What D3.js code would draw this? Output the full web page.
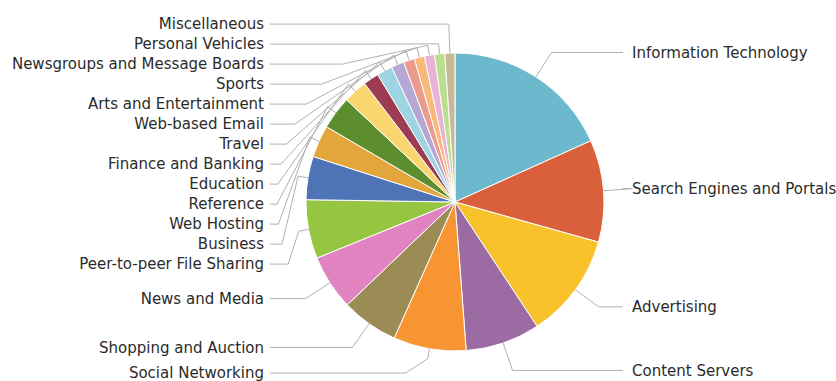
<!DOCTYPE html>
<html>
<head>
<meta charset="utf-8">
<script src="https://cdn.jsdelivr.net/npm/d3@7"></script>
<style>
  body { margin: 0; background: #fff; }
  text { font-family: "DejaVu Sans", sans-serif; font-size: 15px; fill: #2b2b2b; }
</style>
</head>
<body>
<div id="chart"></div>
<script>
// Slice categories, clockwise from 12 o'clock
const categories = [
    "Information Technology", "Search Engines and Portals", "Advertising", "Content Servers",
    "Social Networking", "Shopping and Auction", "News and Media", "Peer-to-peer File Sharing",
    "Business", "Web Hosting", "Reference", "Education", "Finance and Banking", "Travel",
    "Web-based Email", "Arts and Entertainment", "Sports", "Newsgroups and Message Boards",
    "Personal Vehicles", "Miscellaneous"
];

// Share of traffic (%)
const shares = [18.3, 11.1, 11.4, 8.1, 7.9, 6.2, 6.0, 6.4, 4.7, 3.5, 3.6, 2.6, 1.7, 1.7, 1.4, 1.2, 1.1, 1.1, 1.1, 1.1];

const sliceColors = [
    "#6cb8cc", "#d9603b", "#f8c22b", "#9c6ba3", "#f79533", "#9b8b55", "#e083c0", "#96c541",
    "#4e73b6", "#e2a63c", "#5c8e2e", "#fbd66e", "#9c3b52", "#9fd5e2", "#b6a8d4", "#ec9c8f",
    "#f8b979", "#e9b3d6", "#badf8e", "#c8b898"
];

const width = 836, height = 381;
const cx = 455, cy = 202, radius = 149, labelDistance = 29;
const labelGap = 20, labelTop = 23, labelBottom = 373;
const leftLabelX = 264, rightLabelX = 632;

const svg = d3.select("#chart")
    .append("svg")
    .attr("width", width)
    .attr("height", height);

const data = categories.map((c, i) => ({ name: c, value: shares[i], color: sliceColors[i] }));

const pie = d3.pie().sort(null).value(d => d.value);
const arcs = pie(data);
const arc = d3.arc().innerRadius(0).outerRadius(radius);

const g = svg.append("g").attr("transform", `translate(${cx},${cy})`);

g.selectAll("path.slice")
    .data(arcs)
    .enter()
    .append("path")
    .attr("class", "slice")
    .attr("d", arc)
    .attr("fill", d => d.data.color)
    .attr("stroke", "#fff")
    .attr("stroke-width", 1);

// Label positions: natural spot at radius + distance, then spread so they don't overlap
arcs.forEach(d => {
    d.mid = (d.startAngle + d.endAngle) / 2;
    d.side = d.mid < Math.PI ? "right" : "left";
    d.ly = -(radius + labelDistance) * Math.cos(d.mid) + cy;
});

["left", "right"].forEach(side => {
    const list = arcs.filter(d => d.side === side).sort((a, b) => a.ly - b.ly);
    for (let pass = 0; pass < 3; pass++) {
        for (let i = 0; i < list.length; i++) {
            const min = i === 0 ? labelTop : list[i - 1].ly + labelGap;
            list[i].ly = Math.max(list[i].ly, min);
        }
        for (let i = list.length - 1; i >= 0; i--) {
            const max = i === list.length - 1 ? labelBottom : list[i + 1].ly - labelGap;
            list[i].ly = Math.min(list[i].ly, max);
        }
    }
});

function connector(d) {
    const s = Math.sin(d.mid), c = Math.cos(d.mid);
    const base = [cx + radius * s, cy - radius * c];
    const brk = [cx + (radius + 10) * s, cy - (radius + 10) * c];
    const R = radius + labelDistance;
    const dy = d.ly - cy;
    let gx = Math.sqrt(Math.max(0, R * R - dy * dy));
    let first, end;
    if (d.side === "right") {
        first = [Math.max(cx + gx, brk[0]), d.ly];
        end = [rightLabelX - 9, d.ly];
    } else {
        first = [Math.min(cx - gx, brk[0]), d.ly];
        end = [leftLabelX + 6, d.ly];
    }
    return d3.line()([end, first, brk, base]);
}

svg.append("g")
    .attr("class", "connectors")
    .selectAll("path")
    .data(arcs)
    .enter()
    .append("path")
    .attr("d", connector)
    .attr("fill", "none")
    .attr("stroke", "#b0b0b0")
    .attr("stroke-width", 1);

svg.append("g")
    .attr("class", "labels")
    .selectAll("text")
    .data(arcs)
    .enter()
    .append("text")
    .attr("x", d => d.side === "right" ? rightLabelX : leftLabelX)
    .attr("y", d => d.ly)
    .attr("dy", "0.35em")
    .attr("text-anchor", d => d.side === "right" ? "start" : "end")
    .text(d => d.data.name);
</script>
</body>
</html>
